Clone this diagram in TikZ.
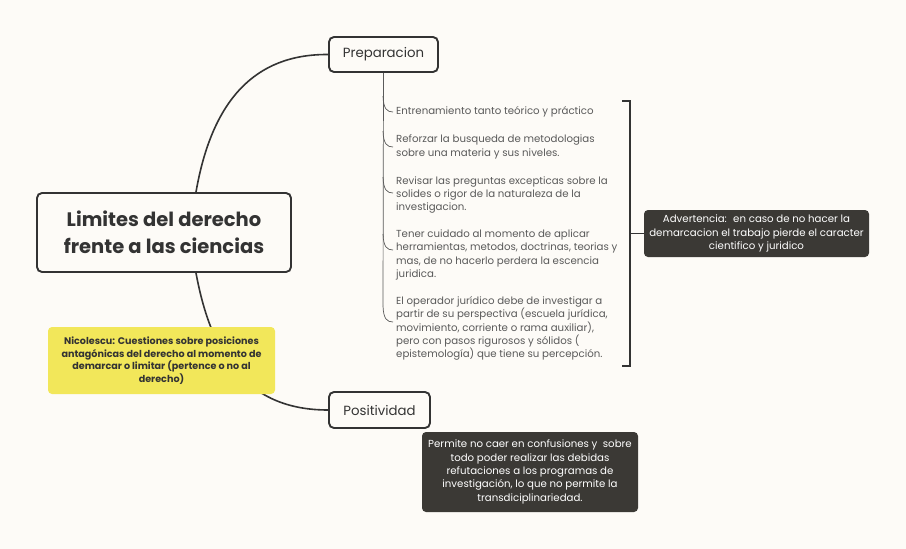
\documentclass[tikz,border=0pt]{standalone}
\usepackage{fontspec}
\setmainfont{Poppins}
\usetikzlibrary{calc}

\definecolor{bgcream}{HTML}{FDFBF7}
\definecolor{inkdark}{HTML}{333333}
\definecolor{itemgray}{HTML}{5A5A5A}
\definecolor{notebox}{HTML}{3B3935}
\definecolor{stickyyellow}{HTML}{F2E75A}

\tikzset{
    topicbox/.style={draw=inkdark, line width=1.9pt, rounded corners=5pt, fill=bgcream, align=center, text=inkdark},
    branch/.style={draw=inkdark, line width=1.6pt},
    twig/.style={draw=itemgray, line width=0.7pt},
    itemtext/.style={anchor=west, align=left, text=itemgray, inner sep=0pt, font=\fontsize{10.2}{13.4}\selectfont},
    darknote/.style={fill=notebox, rounded corners=4pt, text=white, align=center, font=\fontsize{10.2}{13.4}\selectfont},
}

\begin{document}
\begin{tikzpicture}[x=1pt, y=-1pt]
    \useasboundingbox[fill=bgcream] (0,0) rectangle (906,549);

    % main topics
    \node[topicbox, minimum width=254pt, minimum height=79pt, font=\fontsize{19.5}{27}\selectfont\bfseries] (center) at (164,232.5) {Limites del derecho\\frente a las ciencias};
    \node[topicbox, minimum width=109pt, minimum height=35pt, font=\fontsize{13.3}{15}\selectfont] (prep) at (383.5,54.5) {Preparacion};
    \node[topicbox, minimum width=101pt, minimum height=36pt, font=\fontsize{13.3}{15}\selectfont] (posit) at (379.5,410) {Positividad};

    % branches
    \draw[branch] ($(center.north)+(32,0)$) .. controls (212,100) and (255,54) .. (prep.west);
    \draw[branch] ($(center.south)+(32,0)$) .. controls (212,360) and (250,410) .. (posit.west);

    % floating note
    \node[fill=stickyyellow, rounded corners=4pt, minimum width=227pt, minimum height=67pt, align=center, text=inkdark, font=\fontsize{9.6}{12.6}\selectfont\bfseries] (nicol) at (161.5,360.5) {Nicolescu: Cuestiones sobre posiciones\\antagónicas del derecho al momento de\\demarcar o limitar (pertence o no al\\derecho)};

    % items of Preparacion
    \node[itemtext] (i1) at (396,112) {Entrenamiento tanto teórico y práctico};
    \node[itemtext] (i2) at (396,147) {Reforzar la busqueda de metodologias\\sobre una materia y sus niveles.};
    \node[itemtext] (i3) at (396,195) {Revisar las preguntas excepticas sobre la\\solides o rigor de la naturaleza de la\\investigacion.};
    \node[itemtext] (i4) at (396,255) {Tener cuidado al momento de aplicar\\herramientas, metodos, doctrinas, teorias y\\mas, de no hacerlo perdera la escencia\\juridica.};
    \node[itemtext] (i5) at (396,328.5) {El operador jurídico debe de investigar a\\partir de su perspectiva (escuela jurídica,\\movimiento, corriente o rama auxiliar),\\pero con pasos rigurosos y sólidos (\\epistemología) que tiene su percepción.};

    \draw[twig] (prep.south) -- (383,306);
    \foreach \i/\y in {i1/112, i2/147, i3/193, i4/250, i5/322}
    {
    \draw[twig] (383,\y-16) .. controls (383.5,\y-3) and (387,\y) .. ([xshift=-3pt]\i.west |- 0,\y);
    }

    % bracket and warning
    \draw[inkdark, line width=1.1pt] (622,101) -- (630,101) -- (630,366) -- (622,366);
    \node[darknote, minimum width=225pt, minimum height=47pt] (warn) at (756.5,233.5) {Advertencia:~ en caso de no hacer la\\demarcacion el trabajo pierde el caracter\\cientifico y juridico};
    \draw[inkdark, line width=1.1pt] (630,233.5) -- (warn.west);

    % note under Positividad
    \node[darknote, minimum width=216pt, minimum height=80pt] (permite) at (530,472) {Permite no caer en confusiones y~ sobre\\todo poder realizar las debidas\\refutaciones a los programas de\\investigación, lo que no permite la\\transdiciplinariedad.};
\end{tikzpicture}
\end{document}
